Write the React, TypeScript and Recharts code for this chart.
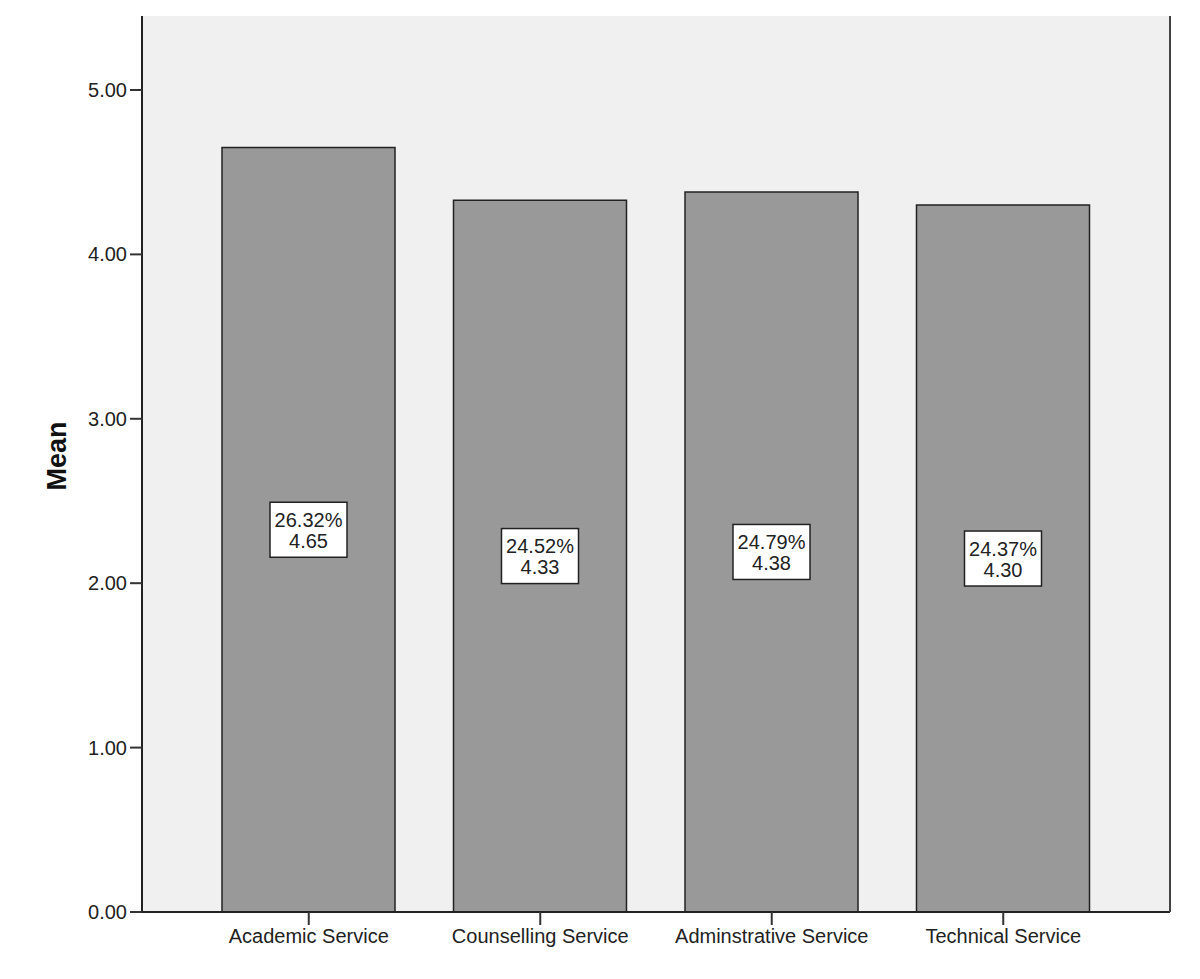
import { BarChart, Bar, XAxis, YAxis, CartesianGrid, LabelList } from "recharts";

const categories = ["Academic Service", "Counselling Service", "Adminstrative Service", "Technical Service"];
const means = [4.65, 4.33, 4.38, 4.3];
const percents = ["26.32%", "24.52%", "24.79%", "24.37%"];
const yTicks = [0, 1, 2, 3, 4, 5];

const FONT = "Arial, 'Liberation Sans', sans-serif";

const data = categories.map((name, i) => ({ name, mean: means[i], pct: percents[i] }));

// white box with percentage + mean, centred in the bar
function BoxLabel(props: any) {
  const { x, y, width, height, index } = props;
  const cx = x + width / 2;
  const cy = y + height / 2;
  const w = 77;
  const h = 55;
  return (
    <g>
      <rect x={cx - w / 2} y={cy - h / 2} width={w} height={h} fill="#fff" stroke="#222" strokeWidth={1.5} />
      <text x={cx} y={cy - 10} textAnchor="middle" dominantBaseline="central" fontSize={20} fontFamily={FONT} fill="#222">
        {percents[index]}
      </text>
      <text x={cx} y={cy + 11} textAnchor="middle" dominantBaseline="central" fontSize={20} fontFamily={FONT} fill="#222">
        {means[index].toFixed(2)}
      </text>
    </g>
  );
}

function MeanLabel(props: any) {
  const { viewBox } = props;
  const cy = viewBox.y + viewBox.height / 2 - 8;
  return (
    <text x={57} y={cy} transform={`rotate(-90, 57, ${cy})`} textAnchor="middle" dominantBaseline="central"
      fontSize={27} fontWeight="bold" fontFamily={FONT} fill="#111">
      Mean
    </text>
  );
}

export default function App() {
  return (
    <div style={{ position: "absolute", left: 0, top: 0, width: 1200, height: 979, background: "#fff" }}>
      <BarChart
        width={1200}
        height={979}
        data={data}
        margin={{ top: 16, right: 0, bottom: 0, left: 0 }}
      >
        <CartesianGrid fill="#f0f0f0" stroke="none" horizontal={false} vertical={false} />
        <XAxis
          dataKey="name"
          padding={{ left: 51, right: 51 }}
          tick={{ fill: "#222", fontSize: 20, fontFamily: FONT }}
          tickSize={13}
          tickMargin={4}
          tickLine={{ stroke: "#333", strokeWidth: 2 }}
          axisLine={{ stroke: "#222", strokeWidth: 2 }}
          height={67}
        />
        <YAxis
          yAxisId="left"
          domain={[0, 5.45]}
          ticks={yTicks}
          tickFormatter={(v: number) => v.toFixed(2)}
          tick={{ fill: "#222", fontSize: 20, fontFamily: FONT }}
          tickSize={12}
          tickMargin={3}
          tickLine={{ stroke: "#333", strokeWidth: 2 }}
          axisLine={{ stroke: "#222", strokeWidth: 2 }}
          width={142}
          label={<MeanLabel />}
        />
        <YAxis
          yAxisId="right"
          orientation="right"
          domain={[0, 5.45]}
          tick={false}
          tickLine={false}
          axisLine={{ stroke: "#444", strokeWidth: 2 }}
          width={30}
        />
        <Bar
          yAxisId="left"
          dataKey="mean"
          barSize={173}
          fill="#999999"
          stroke="#222"
          strokeWidth={1.5}
          isAnimationActive={false}
        >
          <LabelList dataKey="mean" content={<BoxLabel />} />
        </Bar>
      </BarChart>
    </div>
  );
}
